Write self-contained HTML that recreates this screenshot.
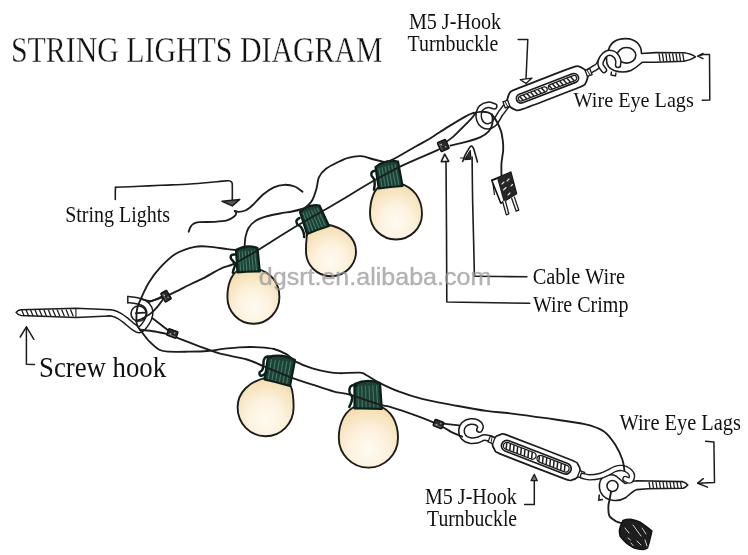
<!DOCTYPE html>
<html><head><meta charset="utf-8"><title>String Lights Diagram</title>
<style>html,body{margin:0;padding:0;background:#fff;width:748px;height:555px;overflow:hidden}svg{display:block;will-change:transform}</style>
</head><body>
<svg width="748" height="555" viewBox="0 0 748 555">
<defs>
<radialGradient id="glob" cx="0.5" cy="0.68" r="0.8" fx="0.5" fy="0.72">
<stop offset="0" stop-color="#fffbf2"/>
<stop offset="0.4" stop-color="#fcf2de"/>
<stop offset="0.72" stop-color="#f7e3bc"/>
<stop offset="1" stop-color="#efcf96"/>
</radialGradient>
</defs>
<rect width="748" height="555" fill="#fff"/>
<path d="M380.8,185.7 C374.1,189.1 370.0,199.8 370.0,214.0 A26,25.5 0 0 0 422.0,214.0 C422.0,198.7 413.5,187.0 399.6,183.3 Z" fill="url(#glob)" stroke="#1c1c1c" stroke-width="1.9" stroke-linejoin="round"/>
<path d="M378.8,188.5 L375.5,167 Q385.5,159.2 398,161.5 L402.5,186 Q390.5,186.7 378.8,188.5 Z" fill="#1d4136" stroke="#0b1f18" stroke-width="2.2" stroke-linejoin="round"/>
<line x1="379.0" y1="168.4" x2="381.9" y2="186.6" stroke="#417a67" stroke-width="1.1" stroke-linecap="round"/>
<line x1="382.1" y1="167.7" x2="385.3" y2="186.2" stroke="#417a67" stroke-width="1.1" stroke-linecap="round"/>
<line x1="385.2" y1="166.9" x2="388.7" y2="185.8" stroke="#417a67" stroke-width="1.1" stroke-linecap="round"/>
<line x1="388.4" y1="166.2" x2="392.1" y2="185.4" stroke="#417a67" stroke-width="1.1" stroke-linecap="round"/>
<line x1="391.8" y1="165.4" x2="395.4" y2="185.1" stroke="#417a67" stroke-width="1.1" stroke-linecap="round"/>
<line x1="395.1" y1="164.7" x2="398.8" y2="184.7" stroke="#417a67" stroke-width="1.1" stroke-linecap="round"/>
<path d="M376.0,170.5C375.3,170.8 372.8,171.2 372.0,172.0C371.2,172.8 371.2,174.3 371.5,175.5C371.8,176.7 373.5,177.8 374.0,179.2C374.5,180.6 374.7,182.2 374.7,184.0C374.7,185.8 374.1,188.8 374.0,189.7" fill="none" stroke="#0b1f18" stroke-width="2.5" stroke-linecap="round" stroke-linejoin="round" />
<path d="M308.4,230.6 C306.9,233.1 306.0,241.0 306.0,251.5 A25,24.7 0 0 0 356.0,251.5 C356.0,237.9 344.5,227.6 325.7,224.3 Z" fill="url(#glob)" stroke="#1c1c1c" stroke-width="1.9" stroke-linejoin="round"/>
<path d="M307,234 L300,212 Q308.1,203.8 319.5,205.5 L329,226 Q317.8,229.4 307,234 Z" fill="#1d4136" stroke="#0b1f18" stroke-width="2.2" stroke-linejoin="round"/>
<line x1="303.4" y1="213.2" x2="309.6" y2="231.3" stroke="#417a67" stroke-width="1.1" stroke-linecap="round"/>
<line x1="306.1" y1="212.3" x2="312.7" y2="230.2" stroke="#417a67" stroke-width="1.1" stroke-linecap="round"/>
<line x1="308.7" y1="211.4" x2="315.9" y2="229.1" stroke="#417a67" stroke-width="1.1" stroke-linecap="round"/>
<line x1="311.6" y1="210.4" x2="319.0" y2="227.9" stroke="#417a67" stroke-width="1.1" stroke-linecap="round"/>
<line x1="314.5" y1="209.4" x2="322.1" y2="226.8" stroke="#417a67" stroke-width="1.1" stroke-linecap="round"/>
<line x1="317.5" y1="208.5" x2="325.2" y2="225.7" stroke="#417a67" stroke-width="1.1" stroke-linecap="round"/>
<path d="M299.5,218.0C299.0,218.4 296.9,219.5 296.5,220.5C296.1,221.5 296.5,223.0 297.3,224.2C298.1,225.3 300.2,225.9 301.3,227.4C302.4,228.9 303.3,231.5 303.8,233.1C304.3,234.7 304.1,236.4 304.2,237.1" fill="none" stroke="#0b1f18" stroke-width="2.5" stroke-linecap="round" stroke-linejoin="round" />
<path d="M239.5,269.5 C232.0,272.9 227.4,283.4 227.4,297.2 A26,26.6 0 0 0 279.4,297.2 C279.4,283.0 271.0,272.2 257.3,268.8 Z" fill="url(#glob)" stroke="#1c1c1c" stroke-width="1.9" stroke-linejoin="round"/>
<path d="M237.5,272.3 L236,250 Q246.3,243.8 257.5,248 L259.8,271.5 Q248.6,271.3 237.5,272.3 Z" fill="#1d4136" stroke="#0b1f18" stroke-width="2.2" stroke-linejoin="round"/>
<line x1="239.2" y1="252.0" x2="240.6" y2="270.6" stroke="#417a67" stroke-width="1.1" stroke-linecap="round"/>
<line x1="242.2" y1="251.7" x2="243.8" y2="270.5" stroke="#417a67" stroke-width="1.1" stroke-linecap="round"/>
<line x1="245.3" y1="251.4" x2="246.9" y2="270.4" stroke="#417a67" stroke-width="1.1" stroke-linecap="round"/>
<line x1="248.4" y1="251.2" x2="250.1" y2="270.2" stroke="#417a67" stroke-width="1.1" stroke-linecap="round"/>
<line x1="251.5" y1="250.9" x2="253.3" y2="270.1" stroke="#417a67" stroke-width="1.1" stroke-linecap="round"/>
<line x1="254.6" y1="250.6" x2="256.5" y2="270.0" stroke="#417a67" stroke-width="1.1" stroke-linecap="round"/>
<path d="M235.8,254.6C235.1,254.7 232.5,254.4 231.7,255.0C230.9,255.6 230.6,257.2 230.9,258.3C231.2,259.4 232.6,260.4 233.3,261.5C234.0,262.6 235.0,263.2 235.0,264.7C235.0,266.2 233.7,269.0 233.3,270.4C233.0,271.8 233.0,272.4 232.9,272.8" fill="none" stroke="#0b1f18" stroke-width="2.5" stroke-linecap="round" stroke-linejoin="round" />
<path d="M267.5,377.4 C249.0,381.1 237.6,392.5 237.6,407.5 A28,28.7 0 0 0 293.6,407.5 C293.6,394.9 291.5,385.3 288.1,382.2 Z" fill="url(#glob)" stroke="#1c1c1c" stroke-width="1.9" stroke-linejoin="round"/>
<path d="M264.5,379.5 L268,357 Q282.1,353.3 295,360 L290,386 Q277.3,382.2 264.5,379.5 Z" fill="#1d4136" stroke="#0b1f18" stroke-width="2.2" stroke-linejoin="round"/>
<line x1="271.5" y1="359.7" x2="268.4" y2="378.8" stroke="#417a67" stroke-width="1.1" stroke-linecap="round"/>
<line x1="275.4" y1="360.2" x2="272.1" y2="379.7" stroke="#417a67" stroke-width="1.1" stroke-linecap="round"/>
<line x1="279.3" y1="360.7" x2="275.7" y2="380.6" stroke="#417a67" stroke-width="1.1" stroke-linecap="round"/>
<line x1="283.1" y1="361.2" x2="279.4" y2="381.5" stroke="#417a67" stroke-width="1.1" stroke-linecap="round"/>
<line x1="286.9" y1="361.6" x2="283.0" y2="382.4" stroke="#417a67" stroke-width="1.1" stroke-linecap="round"/>
<line x1="290.7" y1="362.1" x2="286.7" y2="383.3" stroke="#417a67" stroke-width="1.1" stroke-linecap="round"/>
<path d="M271.0,357.0C270.2,356.9 267.7,356.1 266.5,356.6C265.3,357.1 264.3,358.4 263.8,360.0C263.3,361.6 263.6,364.3 263.3,366.0C263.1,367.7 262.9,368.9 262.3,370.0C261.7,371.1 259.9,371.6 259.6,372.5C259.3,373.4 259.6,375.2 260.3,375.6C261.0,376.0 263.0,375.2 264.0,374.6C265.0,374.0 266.1,372.4 266.5,372.0" fill="none" stroke="#0b1f18" stroke-width="2.5" stroke-linecap="round" stroke-linejoin="round" />
<path d="M357.2,405.6 C345.8,409.5 338.8,421.7 338.8,437.8 A29.6,29.8 0 0 0 398.0,437.8 C398.0,421.8 390.7,409.7 378.9,405.8 Z" fill="url(#glob)" stroke="#1c1c1c" stroke-width="1.9" stroke-linejoin="round"/>
<path d="M354.5,408.5 L354.5,384 Q367.0,378.3 380,383 L381.8,409 Q368.1,408.2 354.5,408.5 Z" fill="#1d4136" stroke="#0b1f18" stroke-width="2.2" stroke-linejoin="round"/>
<line x1="358.2" y1="386.3" x2="358.4" y2="406.8" stroke="#417a67" stroke-width="1.1" stroke-linecap="round"/>
<line x1="361.8" y1="386.2" x2="362.3" y2="406.9" stroke="#417a67" stroke-width="1.1" stroke-linecap="round"/>
<line x1="365.5" y1="386.1" x2="366.1" y2="407.0" stroke="#417a67" stroke-width="1.1" stroke-linecap="round"/>
<line x1="369.1" y1="386.0" x2="370.0" y2="407.0" stroke="#417a67" stroke-width="1.1" stroke-linecap="round"/>
<line x1="372.8" y1="385.8" x2="373.9" y2="407.1" stroke="#417a67" stroke-width="1.1" stroke-linecap="round"/>
<line x1="376.5" y1="385.7" x2="377.8" y2="407.1" stroke="#417a67" stroke-width="1.1" stroke-linecap="round"/>
<path d="M356.2,385.8C355.5,385.7 353.3,385.0 352.2,385.4C351.1,385.8 350.1,386.9 349.7,388.2C349.3,389.5 349.3,391.6 349.7,393.1C350.1,394.6 351.9,395.6 352.2,397.1C352.5,398.6 351.9,400.4 351.4,402.0C350.9,403.6 349.6,406.1 349.3,406.9" fill="none" stroke="#0b1f18" stroke-width="2.5" stroke-linecap="round" stroke-linejoin="round" />
<path d="M112,309.9 L110.8,309.8 L76,308.2 L21,309.7 C19,309.8 17.5,310.5 16.1,312.4 C17.5,314.3 19,315.3 21,315.6 L76,317.6 L109,315.9 L112,316" fill="#fff" stroke="#1c1c1c" stroke-width="1.5" stroke-linejoin="round"/>
<line x1="21.5" y1="309.6" x2="24.3" y2="316.2" stroke="#1c1c1c" stroke-width="1.3"/>
<line x1="25.9" y1="309.6" x2="28.8" y2="316.2" stroke="#1c1c1c" stroke-width="1.3"/>
<line x1="30.4" y1="309.6" x2="33.2" y2="316.2" stroke="#1c1c1c" stroke-width="1.3"/>
<line x1="34.9" y1="309.6" x2="37.6" y2="316.2" stroke="#1c1c1c" stroke-width="1.3"/>
<line x1="39.3" y1="309.6" x2="42.1" y2="316.2" stroke="#1c1c1c" stroke-width="1.3"/>
<line x1="43.8" y1="309.6" x2="46.5" y2="316.2" stroke="#1c1c1c" stroke-width="1.3"/>
<line x1="48.2" y1="309.6" x2="51.0" y2="316.2" stroke="#1c1c1c" stroke-width="1.3"/>
<line x1="52.7" y1="309.6" x2="55.5" y2="316.2" stroke="#1c1c1c" stroke-width="1.3"/>
<line x1="57.1" y1="309.6" x2="59.9" y2="316.2" stroke="#1c1c1c" stroke-width="1.3"/>
<line x1="61.6" y1="309.6" x2="64.4" y2="316.2" stroke="#1c1c1c" stroke-width="1.3"/>
<line x1="66.0" y1="309.6" x2="68.8" y2="316.2" stroke="#1c1c1c" stroke-width="1.3"/>
<line x1="70.5" y1="309.6" x2="73.2" y2="316.2" stroke="#1c1c1c" stroke-width="1.3"/>
<line x1="75.9" y1="308.4" x2="75.9" y2="317.4" stroke="#1c1c1c" stroke-width="1.1"/>
<path d="M106.0,312.9C107.0,312.9 109.8,312.5 112.0,313.0C114.2,313.5 117.0,314.6 119.5,316.0C122.0,317.4 124.6,319.6 127.0,321.5C129.4,323.4 131.8,325.9 134.0,327.2C136.2,328.5 137.9,330.3 140.0,329.5C142.1,328.7 144.9,325.0 146.5,322.5C148.1,320.0 149.3,316.8 149.7,314.5C150.1,312.2 149.8,310.4 149.0,308.5C148.2,306.6 146.6,304.7 144.6,303.4C142.6,302.1 139.8,301.3 137.0,300.7C134.2,300.1 129.3,299.8 127.8,299.6" fill="none" stroke="#1c1c1c" stroke-width="7.6" stroke-linecap="butt" stroke-linejoin="round"/>
<path d="M106.0,312.9C107.0,312.9 109.8,312.5 112.0,313.0C114.2,313.5 117.0,314.6 119.5,316.0C122.0,317.4 124.6,319.6 127.0,321.5C129.4,323.4 131.8,325.9 134.0,327.2C136.2,328.5 137.9,330.3 140.0,329.5C142.1,328.7 144.9,325.0 146.5,322.5C148.1,320.0 149.3,316.8 149.7,314.5C150.1,312.2 149.8,310.4 149.0,308.5C148.2,306.6 146.6,304.7 144.6,303.4C142.6,302.1 139.8,301.3 137.0,300.7C134.2,300.1 129.3,299.8 127.8,299.6" fill="none" stroke="#fff" stroke-width="4.6" stroke-linecap="butt" stroke-linejoin="round"/>
<path d="M127.8,295.8 L127.8,303.4" stroke="#1c1c1c" stroke-width="1.5"/>
<circle cx="138.6" cy="313.6" r="7.6" fill="none" stroke="#1c1c1c" stroke-width="1.6"/>
<path d="M136.0,313.2L145.0,312.6" fill="none" stroke="#1c1c1c" stroke-width="1.85" stroke-linecap="round" stroke-linejoin="round" />
<path d="M506.5,105.5C505.5,106.9 501.8,111.6 500.3,113.8C498.8,116.0 498.4,117.1 497.3,118.8C496.2,120.5 495.3,122.5 493.8,123.8C492.3,125.0 490.1,126.1 488.3,126.3C486.5,126.5 484.3,125.9 482.8,124.8C481.3,123.7 480.0,121.7 479.3,119.8C478.6,117.9 478.5,115.3 478.8,113.3C479.1,111.3 479.8,109.2 481.3,107.8C482.8,106.4 485.6,105.0 487.8,104.8C490.0,104.5 493.2,106.0 494.3,106.3" fill="none" stroke="#1c1c1c" stroke-width="6.8" stroke-linecap="round" stroke-linejoin="round"/>
<path d="M506.5,105.5C505.5,106.9 501.8,111.6 500.3,113.8C498.8,116.0 498.4,117.1 497.3,118.8C496.2,120.5 495.3,122.5 493.8,123.8C492.3,125.0 490.1,126.1 488.3,126.3C486.5,126.5 484.3,125.9 482.8,124.8C481.3,123.7 480.0,121.7 479.3,119.8C478.6,117.9 478.5,115.3 478.8,113.3C479.1,111.3 479.8,109.2 481.3,107.8C482.8,106.4 485.6,105.0 487.8,104.8C490.0,104.5 493.2,106.0 494.3,106.3" fill="none" stroke="#fff" stroke-width="3.8" stroke-linecap="round" stroke-linejoin="round"/>
<path d="M587.0,72.5C588.0,71.9 591.1,70.2 593.0,69.0C594.9,67.8 596.8,67.0 598.3,65.3C599.8,63.5 600.6,60.4 602.0,58.5C603.4,56.6 604.8,54.8 606.5,54.0C608.2,53.2 610.3,53.2 612.0,53.5C613.7,53.8 615.5,54.8 616.5,56.0C617.5,57.2 618.0,59.0 618.3,60.5C618.5,62.0 618.0,64.2 618.0,65.0" fill="none" stroke="#1c1c1c" stroke-width="6.5" stroke-linecap="round" stroke-linejoin="round"/>
<path d="M587.0,72.5C588.0,71.9 591.1,70.2 593.0,69.0C594.9,67.8 596.8,67.0 598.3,65.3C599.8,63.5 600.6,60.4 602.0,58.5C603.4,56.6 604.8,54.8 606.5,54.0C608.2,53.2 610.3,53.2 612.0,53.5C613.7,53.8 615.5,54.8 616.5,56.0C617.5,57.2 618.0,59.0 618.3,60.5C618.5,62.0 618.0,64.2 618.0,65.0" fill="none" stroke="#fff" stroke-width="3.6" stroke-linecap="round" stroke-linejoin="round"/>
<g transform="translate(547.5,88.3) rotate(-21)"><path d="M-42.0,-3.2C-41.5,-4.4 -38.6,-8.0 -37.5,-8.7C-36.4,-9.4 -37.9,-10.3 -31.0,-10.5C-24.1,-10.7 24.1,-10.7 31.0,-10.5C37.9,-10.3 36.4,-9.4 37.5,-8.7C38.6,-8.0 41.5,-4.4 42.0,-3.2C42.5,-2.0 42.5,2.0 42.0,3.2C41.5,4.4 38.6,8.0 37.5,8.7C36.4,9.4 37.9,10.3 31.0,10.5C24.1,10.7 -24.1,10.7 -31.0,10.5C-37.9,10.3 -36.4,9.4 -37.5,8.7C-38.6,8.0 -41.5,4.4 -42.0,3.2C-42.5,2.0 -42.5,-2.0 -42.0,-3.2Z" fill="#fff" stroke="#1c1c1c" stroke-width="1.8" stroke-linejoin="round"/><rect x="-33.0" y="-4.6" width="66.0" height="9.2" rx="4.6" fill="#fff" stroke="#1c1c1c" stroke-width="1.7"/><rect x="-31.0" y="-2.5999999999999996" width="30.5" height="5.199999999999999" rx="2.5999999999999996" fill="#fff" stroke="#1c1c1c" stroke-width="1.3"/><rect x="1" y="-2.5999999999999996" width="30.0" height="5.199999999999999" rx="2.5999999999999996" fill="#fff" stroke="#1c1c1c" stroke-width="1.3"/><line x1="-28.9" y1="-2.3" x2="-27.1" y2="2.3" stroke="#1c1c1c" stroke-width="1.5"/><line x1="-25.0" y1="-2.3" x2="-23.2" y2="2.3" stroke="#1c1c1c" stroke-width="1.5"/><line x1="-21.1" y1="-2.3" x2="-19.3" y2="2.3" stroke="#1c1c1c" stroke-width="1.5"/><line x1="-17.2" y1="-2.3" x2="-15.4" y2="2.3" stroke="#1c1c1c" stroke-width="1.5"/><line x1="-13.3" y1="-2.3" x2="-11.5" y2="2.3" stroke="#1c1c1c" stroke-width="1.5"/><line x1="-9.4" y1="-2.3" x2="-7.6" y2="2.3" stroke="#1c1c1c" stroke-width="1.5"/><line x1="-5.5" y1="-2.3" x2="-3.7" y2="2.3" stroke="#1c1c1c" stroke-width="1.5"/><line x1="2.3" y1="-2.3" x2="4.1" y2="2.3" stroke="#1c1c1c" stroke-width="1.5"/><line x1="6.2" y1="-2.3" x2="8.0" y2="2.3" stroke="#1c1c1c" stroke-width="1.5"/><line x1="10.1" y1="-2.3" x2="11.9" y2="2.3" stroke="#1c1c1c" stroke-width="1.5"/><line x1="14.0" y1="-2.3" x2="15.8" y2="2.3" stroke="#1c1c1c" stroke-width="1.5"/><line x1="17.9" y1="-2.3" x2="19.7" y2="2.3" stroke="#1c1c1c" stroke-width="1.5"/><line x1="21.8" y1="-2.3" x2="23.6" y2="2.3" stroke="#1c1c1c" stroke-width="1.5"/><line x1="25.7" y1="-2.3" x2="27.5" y2="2.3" stroke="#1c1c1c" stroke-width="1.5"/><rect x="-46.5" y="-3.2" width="5" height="6.4" fill="#fff" stroke="#1c1c1c" stroke-width="1.3"/><line x1="-44.5" y1="-3" x2="-43.5" y2="3" stroke="#1c1c1c" stroke-width="0.9"/><rect x="41.5" y="-3.2" width="5" height="6.4" fill="#fff" stroke="#1c1c1c" stroke-width="1.3"/><line x1="43.5" y1="-3" x2="44.5" y2="3" stroke="#1c1c1c" stroke-width="0.9"/></g>
<path d="M491.0,438.8C489.8,438.6 486.2,437.3 484.0,437.5C481.8,437.7 480.3,439.5 478.0,440.0C475.7,440.5 472.4,441.0 470.0,440.5C467.6,440.0 464.9,438.7 463.5,437.0C462.1,435.3 461.4,432.6 461.5,430.5C461.6,428.4 462.5,426.0 464.0,424.5C465.5,423.0 468.3,421.8 470.5,421.5C472.7,421.2 475.3,421.7 477.0,422.5C478.7,423.3 480.1,425.3 480.5,426.5C480.9,427.7 479.7,429.0 479.5,429.5" fill="none" stroke="#1c1c1c" stroke-width="7" stroke-linecap="round" stroke-linejoin="round"/>
<path d="M491.0,438.8C489.8,438.6 486.2,437.3 484.0,437.5C481.8,437.7 480.3,439.5 478.0,440.0C475.7,440.5 472.4,441.0 470.0,440.5C467.6,440.0 464.9,438.7 463.5,437.0C462.1,435.3 461.4,432.6 461.5,430.5C461.6,428.4 462.5,426.0 464.0,424.5C465.5,423.0 468.3,421.8 470.5,421.5C472.7,421.2 475.3,421.7 477.0,422.5C478.7,423.3 480.1,425.3 480.5,426.5C480.9,427.7 479.7,429.0 479.5,429.5" fill="none" stroke="#fff" stroke-width="4" stroke-linecap="round" stroke-linejoin="round"/>
<g transform="translate(536.3,457.2) rotate(21.2)"><path d="M-46.0,-3.2C-45.5,-4.3 -42.6,-7.5 -41.5,-8.2C-40.4,-8.9 -42.6,-9.8 -35.0,-10.0C-27.4,-10.2 27.4,-10.2 35.0,-10.0C42.6,-9.8 40.4,-8.9 41.5,-8.2C42.6,-7.5 45.5,-4.3 46.0,-3.2C46.5,-2.1 46.5,2.1 46.0,3.2C45.5,4.3 42.6,7.5 41.5,8.2C40.4,8.9 42.6,9.8 35.0,10.0C27.4,10.2 -27.4,10.2 -35.0,10.0C-42.6,9.8 -40.4,8.9 -41.5,8.2C-42.6,7.5 -45.5,4.3 -46.0,3.2C-46.5,2.1 -46.5,-2.1 -46.0,-3.2Z" fill="#fff" stroke="#1c1c1c" stroke-width="1.8" stroke-linejoin="round"/><rect x="-37.0" y="-5.5" width="74.0" height="11" rx="5.5" fill="#fff" stroke="#1c1c1c" stroke-width="1.7"/><rect x="-35.0" y="-3.5" width="34.5" height="7" rx="3.5" fill="#fff" stroke="#1c1c1c" stroke-width="1.3"/><rect x="1" y="-3.5" width="34.0" height="7" rx="3.5" fill="#fff" stroke="#1c1c1c" stroke-width="1.3"/><line x1="-32.9" y1="-3.2" x2="-31.1" y2="3.2" stroke="#1c1c1c" stroke-width="1.5"/><line x1="-29.0" y1="-3.2" x2="-27.2" y2="3.2" stroke="#1c1c1c" stroke-width="1.5"/><line x1="-25.1" y1="-3.2" x2="-23.3" y2="3.2" stroke="#1c1c1c" stroke-width="1.5"/><line x1="-21.2" y1="-3.2" x2="-19.4" y2="3.2" stroke="#1c1c1c" stroke-width="1.5"/><line x1="-17.3" y1="-3.2" x2="-15.5" y2="3.2" stroke="#1c1c1c" stroke-width="1.5"/><line x1="-13.4" y1="-3.2" x2="-11.6" y2="3.2" stroke="#1c1c1c" stroke-width="1.5"/><line x1="-9.5" y1="-3.2" x2="-7.7" y2="3.2" stroke="#1c1c1c" stroke-width="1.5"/><line x1="-5.6" y1="-3.2" x2="-3.8" y2="3.2" stroke="#1c1c1c" stroke-width="1.5"/><line x1="2.2" y1="-3.2" x2="4.0" y2="3.2" stroke="#1c1c1c" stroke-width="1.5"/><line x1="6.1" y1="-3.2" x2="7.9" y2="3.2" stroke="#1c1c1c" stroke-width="1.5"/><line x1="10.0" y1="-3.2" x2="11.8" y2="3.2" stroke="#1c1c1c" stroke-width="1.5"/><line x1="13.9" y1="-3.2" x2="15.7" y2="3.2" stroke="#1c1c1c" stroke-width="1.5"/><line x1="17.8" y1="-3.2" x2="19.6" y2="3.2" stroke="#1c1c1c" stroke-width="1.5"/><line x1="21.7" y1="-3.2" x2="23.5" y2="3.2" stroke="#1c1c1c" stroke-width="1.5"/><line x1="25.6" y1="-3.2" x2="27.4" y2="3.2" stroke="#1c1c1c" stroke-width="1.5"/><line x1="29.5" y1="-3.2" x2="31.3" y2="3.2" stroke="#1c1c1c" stroke-width="1.5"/><rect x="-50.5" y="-3.2" width="5" height="6.4" fill="#fff" stroke="#1c1c1c" stroke-width="1.3"/><line x1="-48.5" y1="-3" x2="-47.5" y2="3" stroke="#1c1c1c" stroke-width="0.9"/><rect x="45.5" y="-3.2" width="5" height="6.4" fill="#fff" stroke="#1c1c1c" stroke-width="1.3"/><line x1="47.5" y1="-3" x2="48.5" y2="3" stroke="#1c1c1c" stroke-width="0.9"/></g>
<path d="M608,52 C610,41 618,38.5 626,38.6 C635,38.8 641.5,44 641.5,53.5 L656,52.6 L684,52.8 C689,53.5 693,55 695.5,56.8 C693,58.5 689,60.5 684,61.3 L656,62.2 L642.1,62.3 C639,65 636,68 631,70.5 C627,72 620,72.5 614,70.5 C609,68.5 606.5,64 606.5,60 C606.5,56 607,54 608,52 Z" fill="#fff" stroke="#1c1c1c" stroke-width="1.6" stroke-linejoin="round"/>
<ellipse cx="626.5" cy="55.3" rx="9.3" ry="7.8" fill="#fff" stroke="#1c1c1c" stroke-width="1.6"/>
<line x1="659.0" y1="53.3" x2="660.2" y2="61.5" stroke="#1c1c1c" stroke-width="1.3"/>
<line x1="662.4" y1="53.3" x2="663.6" y2="61.5" stroke="#1c1c1c" stroke-width="1.3"/>
<line x1="665.8" y1="53.3" x2="667.0" y2="61.5" stroke="#1c1c1c" stroke-width="1.3"/>
<line x1="669.2" y1="53.3" x2="670.4" y2="61.5" stroke="#1c1c1c" stroke-width="1.3"/>
<line x1="672.6" y1="53.3" x2="673.8" y2="61.5" stroke="#1c1c1c" stroke-width="1.3"/>
<line x1="676.0" y1="53.3" x2="677.2" y2="61.5" stroke="#1c1c1c" stroke-width="1.3"/>
<line x1="679.4" y1="53.3" x2="680.6" y2="61.5" stroke="#1c1c1c" stroke-width="1.3"/>
<line x1="682.8" y1="53.3" x2="684.0" y2="61.5" stroke="#1c1c1c" stroke-width="1.3"/>
<path d="M611.5,71.5 L611,75 L615.5,76 L616,72.5" fill="#fff" stroke="#1c1c1c" stroke-width="1.4"/>
<path d="M604.0,70.0C603.4,69.1 600.8,66.6 600.5,64.5C600.2,62.4 601.4,59.4 602.5,57.5C603.6,55.6 605.3,54.0 607.0,53.3C608.7,52.6 610.9,52.8 612.5,53.3C614.1,53.8 615.5,55.2 616.5,56.5C617.5,57.8 618.0,59.6 618.3,61.0C618.5,62.4 618.0,64.3 618.0,65.0" fill="none" stroke="#1c1c1c" stroke-width="6.5" stroke-linecap="round" stroke-linejoin="round"/>
<path d="M604.0,70.0C603.4,69.1 600.8,66.6 600.5,64.5C600.2,62.4 601.4,59.4 602.5,57.5C603.6,55.6 605.3,54.0 607.0,53.3C608.7,52.6 610.9,52.8 612.5,53.3C614.1,53.8 615.5,55.2 616.5,56.5C617.5,57.8 618.0,59.6 618.3,61.0C618.5,62.4 618.0,64.3 618.0,65.0" fill="none" stroke="#fff" stroke-width="3.6" stroke-linecap="round" stroke-linejoin="round"/>
<path d="M625,483.5 C628,482 632,481 636.8,480.7 L682.2,481.6 C685,482.5 686.5,483.5 687.8,485 C686.5,486.5 685,487.5 683.1,488.2 L648.1,488.8 L636.8,489.6 C633,491 630,494 626,497.5 C622,500 618,500.8 614,500.5 C608,500 603,497 600.5,492 C598.5,487 599,481 602.5,477.5 C606,474.5 612,474 616,476 Z" fill="#fff" stroke="#1c1c1c" stroke-width="1.6" stroke-linejoin="round"/>
<circle cx="612.5" cy="486" r="5.5" fill="#fff" stroke="#1c1c1c" stroke-width="1.5"/>
<line x1="649.0" y1="482" x2="650.0" y2="488.3" stroke="#1c1c1c" stroke-width="1.3"/>
<line x1="652.5" y1="482" x2="653.5" y2="488.3" stroke="#1c1c1c" stroke-width="1.3"/>
<line x1="656.0" y1="482" x2="657.0" y2="488.3" stroke="#1c1c1c" stroke-width="1.3"/>
<line x1="659.5" y1="482" x2="660.5" y2="488.3" stroke="#1c1c1c" stroke-width="1.3"/>
<line x1="663.0" y1="482" x2="664.0" y2="488.3" stroke="#1c1c1c" stroke-width="1.3"/>
<line x1="666.5" y1="482" x2="667.5" y2="488.3" stroke="#1c1c1c" stroke-width="1.3"/>
<line x1="670.0" y1="482" x2="671.0" y2="488.3" stroke="#1c1c1c" stroke-width="1.3"/>
<line x1="673.5" y1="482" x2="674.5" y2="488.3" stroke="#1c1c1c" stroke-width="1.3"/>
<line x1="677.0" y1="482" x2="678.0" y2="488.3" stroke="#1c1c1c" stroke-width="1.3"/>
<line x1="680.5" y1="482" x2="681.5" y2="488.3" stroke="#1c1c1c" stroke-width="1.3"/>
<path d="M599.3,494.5 L598.8,500 L603,499.5" fill="#fff" stroke="#1c1c1c" stroke-width="1.6"/>
<path d="M583.0,476.0C584.2,476.2 587.2,477.3 590.0,477.3C592.8,477.3 597.0,476.8 600.0,476.0C603.0,475.2 605.5,474.0 608.0,472.8C610.5,471.6 612.7,469.8 615.0,469.0C617.3,468.2 619.8,467.8 622.0,468.0C624.2,468.2 626.8,469.2 628.5,470.5C630.2,471.8 631.8,473.8 632.0,475.5C632.2,477.2 631.1,479.9 630.0,480.5C628.9,481.1 626.2,479.2 625.5,479.0" fill="none" stroke="#1c1c1c" stroke-width="6.5" stroke-linecap="round" stroke-linejoin="round"/>
<path d="M583.0,476.0C584.2,476.2 587.2,477.3 590.0,477.3C592.8,477.3 597.0,476.8 600.0,476.0C603.0,475.2 605.5,474.0 608.0,472.8C610.5,471.6 612.7,469.8 615.0,469.0C617.3,468.2 619.8,467.8 622.0,468.0C624.2,468.2 626.8,469.2 628.5,470.5C630.2,471.8 631.8,473.8 632.0,475.5C632.2,477.2 631.1,479.9 630.0,480.5C628.9,481.1 626.2,479.2 625.5,479.0" fill="none" stroke="#fff" stroke-width="3.8" stroke-linecap="round" stroke-linejoin="round"/>
<path d="M148.9,302.0C150.5,301.4 155.8,299.6 158.6,298.6C161.4,297.6 163.3,297.3 166.0,296.2C168.7,295.1 170.7,294.2 174.9,292.2C179.1,290.2 186.3,286.3 191.0,284.0C195.7,281.7 198.0,281.0 203.0,278.4C208.0,275.8 215.7,271.0 220.8,268.6C225.9,266.2 228.3,266.5 233.8,263.8C239.3,261.1 244.6,258.1 254.0,252.5C263.4,246.9 278.6,236.9 290.0,230.0C301.4,223.1 313.8,216.2 322.2,211.3C330.6,206.4 332.3,205.5 340.7,200.5C349.1,195.5 362.8,187.0 372.8,181.3C382.8,175.6 389.9,171.5 400.6,166.3C411.3,161.1 429.9,153.6 437.0,150.3C444.1,147.0 442.2,147.1 443.2,146.5" fill="none" stroke="#1c1c1c" stroke-width="1.85" stroke-linecap="round" stroke-linejoin="round" />
<path d="M443.2,144.3C445.0,142.9 450.7,138.9 454.1,135.9C457.5,132.9 460.9,129.1 463.7,126.3C466.5,123.5 468.9,121.3 470.9,119.1C472.9,116.9 474.9,114.0 475.7,113.0" fill="none" stroke="#1c1c1c" stroke-width="1.85" stroke-linecap="round" stroke-linejoin="round" />
<path d="M450.5,145.5C453.1,144.9 461.1,143.3 466.1,141.9C471.1,140.5 476.7,138.9 480.5,137.1C484.3,135.3 487.1,133.1 489.0,131.1C490.9,129.1 491.4,127.1 492.0,125.1C492.6,123.1 492.6,120.9 492.6,119.1C492.6,117.3 492.1,115.1 492.0,114.3" fill="none" stroke="#1c1c1c" stroke-width="1.85" stroke-linecap="round" stroke-linejoin="round" />
<path d="M384.0,162.0C385.3,161.7 386.7,162.5 392.0,159.9C397.3,157.3 409.3,150.1 415.6,146.5C421.9,142.9 424.6,141.8 430.0,138.5C435.4,135.2 442.0,130.6 448.0,126.9C454.0,123.2 461.9,118.4 466.1,116.1C470.3,113.8 470.9,113.7 473.3,113.0C475.7,112.3 478.1,111.9 480.5,111.8C482.9,111.7 485.8,111.8 487.8,112.4C489.8,113.0 491.1,113.9 492.6,115.5C494.1,117.1 495.6,119.4 497.0,122.0C498.4,124.6 500.0,128.0 501.0,131.1C502.0,134.2 502.4,137.5 502.8,140.7C503.2,143.8 503.4,146.3 503.2,150.0C503.0,153.7 501.8,158.7 501.5,163.0C501.2,167.3 501.5,173.8 501.5,176.0" fill="none" stroke="#1c1c1c" stroke-width="1.85" stroke-linecap="round" stroke-linejoin="round" />
<path d="M306.8,206.5C307.7,205.4 310.8,203.0 312.4,200.0C314.0,197.0 315.4,192.4 316.5,188.6C317.6,184.8 317.4,180.5 318.9,177.3C320.4,174.1 322.4,171.6 325.4,169.2C328.4,166.8 333.0,164.6 336.8,162.7C340.6,160.8 344.1,158.9 348.1,157.8C352.2,156.7 356.8,155.9 361.1,156.2C365.4,156.5 370.2,158.6 374.0,159.5C377.8,160.4 382.2,161.5 383.8,161.9" fill="none" stroke="#1c1c1c" stroke-width="1.85" stroke-linecap="round" stroke-linejoin="round" />
<path d="M244.5,248.0C244.7,246.2 244.8,240.3 245.5,237.0C246.2,233.7 246.8,230.8 248.5,228.0C250.2,225.2 253.1,222.4 256.0,220.5C258.9,218.6 262.0,217.7 266.0,216.5C270.0,215.3 275.7,214.3 280.0,213.5C284.3,212.7 288.3,212.2 292.0,211.5C295.7,210.8 299.5,209.8 302.0,209.0C304.5,208.2 306.0,206.9 306.8,206.5" fill="none" stroke="#1c1c1c" stroke-width="1.85" stroke-linecap="round" stroke-linejoin="round" />
<path d="M188.7,231.7C189.0,230.9 189.7,228.3 190.5,227.0C191.3,225.7 192.1,224.6 193.5,223.8C194.9,223.0 195.5,222.5 199.1,222.2C202.7,221.9 210.2,222.1 214.8,221.8C219.4,221.5 223.8,221.2 226.9,220.4C230.0,219.6 231.9,218.2 233.5,217.0C235.1,215.8 236.1,214.5 236.3,213.5C236.5,212.5 235.1,211.4 234.8,211.0" fill="none" stroke="#1c1c1c" stroke-width="1.85" stroke-linecap="round" stroke-linejoin="round" />
<path d="M234.8,211.0C235.5,211.1 237.2,211.9 239.1,211.8C241.0,211.7 243.7,211.5 246.0,210.3C248.3,209.1 250.1,207.5 253.0,204.8C255.9,202.1 259.9,197.2 263.4,194.3C266.9,191.4 270.3,189.0 273.8,187.4C277.3,185.8 280.8,185.0 284.3,184.8C287.8,184.7 291.7,185.3 294.7,186.5C297.7,187.7 301.2,190.8 302.5,191.7" fill="none" stroke="#1c1c1c" stroke-width="1.85" stroke-linecap="round" stroke-linejoin="round" />
<path d="M237.0,250.0C235.4,249.9 231.6,249.7 227.3,249.2C223.0,248.7 216.5,247.2 211.1,246.8C205.7,246.4 200.8,245.6 194.9,246.8C189.0,248.0 181.4,250.4 175.4,254.0C169.4,257.6 163.6,263.9 159.2,268.6C154.8,273.3 151.7,277.9 148.9,282.4C146.1,286.9 144.3,291.3 142.4,295.4C140.5,299.5 138.6,303.5 137.6,306.8C136.6,310.1 136.6,312.3 136.5,315.3C136.4,318.3 136.2,322.3 137.0,325.0C137.8,327.7 139.3,328.7 141.4,331.5C143.5,334.3 146.6,338.7 149.6,341.7C152.6,344.7 156.1,348.0 159.3,349.7C162.5,351.4 164.1,351.4 168.9,351.7C173.7,352.0 181.7,351.8 188.1,351.7C194.5,351.6 201.5,351.5 207.4,351.0C213.3,350.5 218.1,349.5 223.4,348.9C228.8,348.3 233.4,347.6 239.5,347.3C245.6,347.0 254.2,347.0 260.0,347.3C265.8,347.6 269.6,347.8 274.0,349.0C278.4,350.2 283.0,352.2 286.7,354.4C290.4,356.5 291.9,359.6 296.2,361.9C300.5,364.2 307.0,366.7 312.4,368.4C317.8,370.1 324.1,371.4 328.6,372.2C333.1,373.0 334.3,373.1 339.5,373.2C344.7,373.3 355.3,372.3 360.0,372.7C364.7,373.1 364.3,374.1 367.5,375.8C370.7,377.5 374.1,380.2 379.4,382.8C384.7,385.4 392.1,389.0 399.2,391.7C406.3,394.4 412.9,396.6 422.1,398.9C431.3,401.2 443.5,403.3 454.2,405.3C464.9,407.3 477.0,409.6 486.3,410.9C495.6,412.2 500.0,412.1 510.0,413.3C520.0,414.5 533.8,416.4 546.2,418.2C558.7,420.0 575.1,422.0 584.7,424.2C594.3,426.4 598.8,427.9 604.0,431.5C609.2,435.1 612.9,441.1 616.0,445.9C619.1,450.6 621.1,455.8 622.5,460.0C623.9,464.2 624.2,469.3 624.5,471.2" fill="none" stroke="#1c1c1c" stroke-width="1.85" stroke-linecap="round" stroke-linejoin="round" />
<path d="M611.0,492.0C610.8,493.3 609.9,497.7 609.5,500.0C609.1,502.3 608.4,503.4 608.4,506.0C608.4,508.6 608.0,513.2 609.3,515.7C610.6,518.2 614.0,520.0 616.0,521.3C618.0,522.5 620.7,522.9 621.6,523.2" fill="none" stroke="#1c1c1c" stroke-width="1.85" stroke-linecap="round" stroke-linejoin="round" />
<path d="M152.8,318.4C154.0,319.3 157.1,321.7 160.0,324.0C162.9,326.3 168.8,330.8 170.5,332.1" fill="none" stroke="#1c1c1c" stroke-width="1.85" stroke-linecap="round" stroke-linejoin="round" />
<path d="M140.0,329.7C142.5,330.0 150.2,330.7 155.0,331.5C159.8,332.3 166.6,334.0 168.9,334.5" fill="none" stroke="#1c1c1c" stroke-width="1.85" stroke-linecap="round" stroke-linejoin="round" />
<path d="M170.5,333.5C171.6,334.2 171.3,335.3 176.9,337.7C182.5,340.1 197.0,345.4 204.2,348.1C211.4,350.8 213.1,351.8 220.2,353.7C227.3,355.6 239.7,357.4 247.0,359.5C254.3,361.6 256.6,363.4 264.1,366.5C271.6,369.6 284.1,374.8 292.1,377.8C300.2,380.8 305.4,382.3 312.4,384.6C319.4,386.9 327.8,389.9 334.0,391.6C340.2,393.3 342.1,392.5 349.7,394.7C357.3,396.9 372.7,402.6 379.4,404.6C386.1,406.6 384.2,405.2 390.0,406.9C395.8,408.6 406.1,412.0 414.1,414.9C422.1,417.8 432.0,421.7 438.1,424.5C444.2,427.3 447.0,429.8 451.0,431.8C455.0,433.8 460.3,435.8 462.2,436.6" fill="none" stroke="#1c1c1c" stroke-width="1.85" stroke-linecap="round" stroke-linejoin="round" />
<path d="M443.0,423.7L459.0,425.3" fill="none" stroke="#1c1c1c" stroke-width="1.85" stroke-linecap="round" stroke-linejoin="round" />
<path d="M141.4,299.0C142.8,299.4 147.5,301.2 150.0,301.2C152.5,301.2 154.3,299.9 156.5,299.0C158.7,298.1 161.9,296.3 163.0,295.8" fill="none" stroke="#1c1c1c" stroke-width="1.85" stroke-linecap="round" stroke-linejoin="round" />
<path d="M164.0,298.0C162.9,299.4 159.8,304.1 157.6,306.6C155.4,309.1 153.6,311.1 151.1,313.1C148.6,315.1 144.9,317.2 142.4,318.5C139.9,319.8 137.1,320.3 136.0,320.7" fill="none" stroke="#1c1c1c" stroke-width="1.85" stroke-linecap="round" stroke-linejoin="round" />
<g transform="translate(166,296.2) rotate(-30)"><rect x="-3.5" y="-5.0" width="7" height="10" rx="1" fill="#2a2a2a" stroke="#111" stroke-width="1.3"/><circle cx="-1.2" cy="-1.7" r="0.9" fill="#bbb"/><circle cx="1.2" cy="2.0" r="0.8" fill="#999"/><line x1="-2.0" y1="-4.0" x2="-2.0" y2="4.0" stroke="#777" stroke-width="0.7"/></g>
<g transform="translate(172.4,333.5) rotate(-70)"><rect x="-3.5" y="-5.0" width="7" height="10" rx="1" fill="#2a2a2a" stroke="#111" stroke-width="1.3"/><circle cx="-1.2" cy="-1.7" r="0.9" fill="#bbb"/><circle cx="1.2" cy="2.0" r="0.8" fill="#999"/><line x1="-2.0" y1="-4.0" x2="-2.0" y2="4.0" stroke="#777" stroke-width="0.7"/></g>
<g transform="translate(443.3,145.5) rotate(-25)"><rect x="-4.5" y="-5.0" width="9" height="10" rx="1" fill="#2a2a2a" stroke="#111" stroke-width="1.3"/><circle cx="-1.5" cy="-1.7" r="0.9" fill="#bbb"/><circle cx="1.5" cy="2.0" r="0.8" fill="#999"/><line x1="-3.0" y1="-4.0" x2="-3.0" y2="4.0" stroke="#777" stroke-width="0.7"/></g>
<g transform="translate(438.5,424) rotate(-70)"><rect x="-3.5" y="-4.75" width="7" height="9.5" rx="1" fill="#2a2a2a" stroke="#111" stroke-width="1.3"/><circle cx="-1.2" cy="-1.6" r="0.9" fill="#bbb"/><circle cx="1.2" cy="1.9" r="0.8" fill="#999"/><line x1="-2.0" y1="-3.75" x2="-2.0" y2="3.75" stroke="#777" stroke-width="0.7"/></g>
<path d="M491.7,180.3 L510.8,172.2 L516.5,193.6 L500.8,203.2 Z" fill="#fff" stroke="#111" stroke-width="1.6" stroke-linejoin="round"/>
<path d="M497,178 L510.8,172.2 L516.5,193.6 L503.5,201.5 Z" fill="#262626"/>
<path d="M502,184 L504,182 M503.5,190 L506,187.5 M507,181 L509,179 M508,195 L510,193 M511,186 L512.5,184.5" stroke="#ddd" stroke-width="1.1" stroke-linecap="round"/>
<path d="M491.7,180.3 L496.5,179 M493,184 L494.5,195" stroke="#111" stroke-width="1.2"/>
<path d="M502.6,201.5 L506.3,214.8 L508.8,214 L505.3,200.4 M511.5,197.8 L516.2,211.2 L518.8,210.2 L514.2,196.6" fill="#fff" stroke="#1c1c1c" stroke-width="1.3" stroke-linejoin="round"/>
<path d="M623.1,520.3 C626,519.2 628,519 630.5,519.2 C634,519.8 637,520.6 640.1,522.1 C645,525.5 649,528.5 651.9,531 C651.5,533.5 651,535.5 650.4,537.6 C649.5,541.5 648.5,545 647.5,548 C646,549 644.5,549.5 643,549.5 C640,549.3 637,548.8 634.2,548 C631.5,546.7 629,545.2 626.8,543.5 C624,541 621.5,538.5 620.1,536.2 C619.5,534 619.3,532 619.4,530.2 C619.8,527.5 620.5,525.3 621.6,523.6 Z" fill="#1e1e1e" stroke="#111" stroke-width="1.4"/>
<path d="M625,528 L629,533 M628,538 L630.5,540 M633,525 L641,536 M637,541 L641,545 M642,528 L646,534 M645,540 L647,546 M631,543 L633,545.5" stroke="#cfcfcf" stroke-width="1" stroke-linecap="round"/>
<path d="M518.1,39.6 L527.8,39.6 L526.0,79.0" fill="none" stroke="#1c1c1c" stroke-width="1.5" stroke-linecap="round" stroke-linejoin="round"/>
<path d="M520.3,79.6 L532.0,78.1 L526.0,83.5Z" fill="#fff" stroke="#1c1c1c" stroke-width="1.4" stroke-linecap="round" stroke-linejoin="round"/>
<path d="M703.0,53.5 L697.8,56.1 L703.0,58.7" fill="none" stroke="#1c1c1c" stroke-width="1.5" stroke-linecap="round" stroke-linejoin="round"/>
<path d="M698.0,56.1 L703.0,54.5 L709.5,54.6 L709.8,100.0 L702.2,100.3" fill="none" stroke="#1c1c1c" stroke-width="1.5" stroke-linecap="round" stroke-linejoin="round"/>
<path d="M115.3,199.5C115.3,198.2 115.3,194.0 115.3,192.0C115.3,190.0 115.5,188.1 115.5,187.3" fill="none" stroke="#1c1c1c" stroke-width="1.6" stroke-linecap="round" stroke-linejoin="round" />
<path d="M115.5,187.3C119.6,187.1 132.4,186.6 140.0,186.3C147.6,186.0 152.8,185.7 161.1,185.3C169.4,184.9 180.6,184.6 190.0,184.0C199.4,183.4 210.9,182.2 217.3,181.7C223.7,181.1 226.1,180.6 228.5,180.7C230.9,180.8 231.2,181.4 231.8,182.3C232.4,183.2 232.2,182.8 232.3,186.0C232.4,189.2 232.3,198.7 232.3,201.2" fill="none" stroke="#1c1c1c" stroke-width="1.6" stroke-linecap="round" stroke-linejoin="round" />
<path d="M222.0,201.3 L239.8,199.4 L232.3,205.9Z" fill="#555" stroke="#1c1c1c" stroke-width="1.5" stroke-linecap="round" stroke-linejoin="round"/>
<path d="M20.2,337.0 L26.4,326.8 L33.9,339.3" fill="none" stroke="#1c1c1c" stroke-width="1.5" stroke-linecap="round" stroke-linejoin="round"/>
<path d="M26.4,327.0 L26.4,364.3 L34.5,364.5" fill="none" stroke="#1c1c1c" stroke-width="1.5" stroke-linecap="round" stroke-linejoin="round"/>
<path d="M462.7,161.4C463.2,160.1 464.6,156.0 466.0,153.5C467.4,151.0 469.6,147.0 470.8,146.2C472.1,145.4 472.7,147.0 473.5,148.5C474.3,150.0 474.9,152.8 475.5,155.0C476.1,157.2 477.1,160.8 477.4,162.0" fill="none" stroke="#1c1c1c" stroke-width="1.6" stroke-linecap="round" stroke-linejoin="round" />
<path d="M464.8,159.6 L470.3,150.5 L470.9,159.2Z" fill="#333" stroke="#1c1c1c" stroke-width="1.2" stroke-linecap="round" stroke-linejoin="round"/>
<path d="M460.5,158.0 L469.5,158.0" fill="none" stroke="#1c1c1c" stroke-width="1.2" stroke-linecap="round" stroke-linejoin="round"/>
<path d="M472.1,157.0C472.2,164.2 472.4,186.2 472.6,200.0C472.9,213.8 473.3,227.3 473.6,240.0C473.9,252.7 474.3,270.0 474.4,276.0" fill="none" stroke="#1c1c1c" stroke-width="1.6" stroke-linecap="round" stroke-linejoin="round" />
<path d="M474.4,276.3 L500.0,276.5 L526.9,276.8" fill="none" stroke="#1c1c1c" stroke-width="1.6" stroke-linecap="round" stroke-linejoin="round"/>
<path d="M441.3,161.7 L444.7,154.2 L448.7,161.4Z" fill="#fff" stroke="#1c1c1c" stroke-width="1.6" stroke-linecap="round" stroke-linejoin="round"/>
<path d="M446.0,161.6 L446.5,230.0 L446.8,302.0 L529.7,303.3" fill="none" stroke="#1c1c1c" stroke-width="1.6" stroke-linecap="round" stroke-linejoin="round"/>
<path d="M531.0,480.7 L534.3,474.4 L537.3,480.7Z" fill="#777" stroke="#1c1c1c" stroke-width="1.3" stroke-linecap="round" stroke-linejoin="round"/>
<path d="M534.3,480.7 L534.3,504.6 L524.7,504.6" fill="none" stroke="#1c1c1c" stroke-width="1.5" stroke-linecap="round" stroke-linejoin="round"/>
<path d="M705.6,441.3 L713.9,441.9 L714.5,482.4 L697.7,483.3" fill="none" stroke="#1c1c1c" stroke-width="1.5" stroke-linecap="round" stroke-linejoin="round"/>
<path d="M703.3,478.7 L697.7,483.2 L707.5,487.1" fill="none" stroke="#1c1c1c" stroke-width="1.5" stroke-linecap="round" stroke-linejoin="round"/>
<text x="10.9" y="61.8" style="font-family:&quot;Liberation Serif&quot;,serif;font-size:35px" fill="#111" textLength="371.8" lengthAdjust="spacingAndGlyphs" stroke="#fff" stroke-width="0.35">STRING LIGHTS DIAGRAM</text>
<text x="408.9" y="29.3" style="font-family:&quot;Liberation Serif&quot;,serif;font-size:23px" fill="#111" textLength="92.2" lengthAdjust="spacingAndGlyphs" >M5 J-Hook</text>
<text x="407.6" y="50.8" style="font-family:&quot;Liberation Serif&quot;,serif;font-size:23px" fill="#111" textLength="90.8" lengthAdjust="spacingAndGlyphs" >Turnbuckle</text>
<text x="573.6" y="106.9" style="font-family:&quot;Liberation Serif&quot;,serif;font-size:21.2px" fill="#111" textLength="120.2" lengthAdjust="spacingAndGlyphs" >Wire Eye Lags</text>
<text x="65.2" y="222.1" style="font-family:&quot;Liberation Serif&quot;,serif;font-size:23px" fill="#111" textLength="104.9" lengthAdjust="spacingAndGlyphs" >String Lights</text>
<text x="532.7" y="284.1" style="font-family:&quot;Liberation Serif&quot;,serif;font-size:23px" fill="#111" textLength="92.3" lengthAdjust="spacingAndGlyphs" >Cable Wire</text>
<text x="533" y="312.1" style="font-family:&quot;Liberation Serif&quot;,serif;font-size:23px" fill="#111" textLength="95.4" lengthAdjust="spacingAndGlyphs" >Wire Crimp</text>
<text x="39.1" y="377.2" style="font-family:&quot;Liberation Serif&quot;,serif;font-size:30px" fill="#111" textLength="127" lengthAdjust="spacingAndGlyphs" >Screw hook</text>
<text x="619.5" y="429.8" style="font-family:&quot;Liberation Serif&quot;,serif;font-size:23.2px" fill="#111" textLength="121.5" lengthAdjust="spacingAndGlyphs" >Wire Eye Lags</text>
<text x="425.1" y="504.1" style="font-family:&quot;Liberation Serif&quot;,serif;font-size:23px" fill="#111" textLength="91.6" lengthAdjust="spacingAndGlyphs" >M5 J-Hook</text>
<text x="427.1" y="525.5" style="font-family:&quot;Liberation Serif&quot;,serif;font-size:23px" fill="#111" textLength="90" lengthAdjust="spacingAndGlyphs" >Turnbuckle</text>
<text x="258.8" y="284.9" style="font-family:&quot;Liberation Sans&quot;,sans-serif;font-size:24.6px" fill="#9a9a9a" textLength="232.5" lengthAdjust="spacingAndGlyphs" fill-opacity="0.74" stroke="#9a9a9a" stroke-width="0.5" stroke-opacity="0.55">dgsrt.en.alibaba.com</text>
</svg>
</body></html>
